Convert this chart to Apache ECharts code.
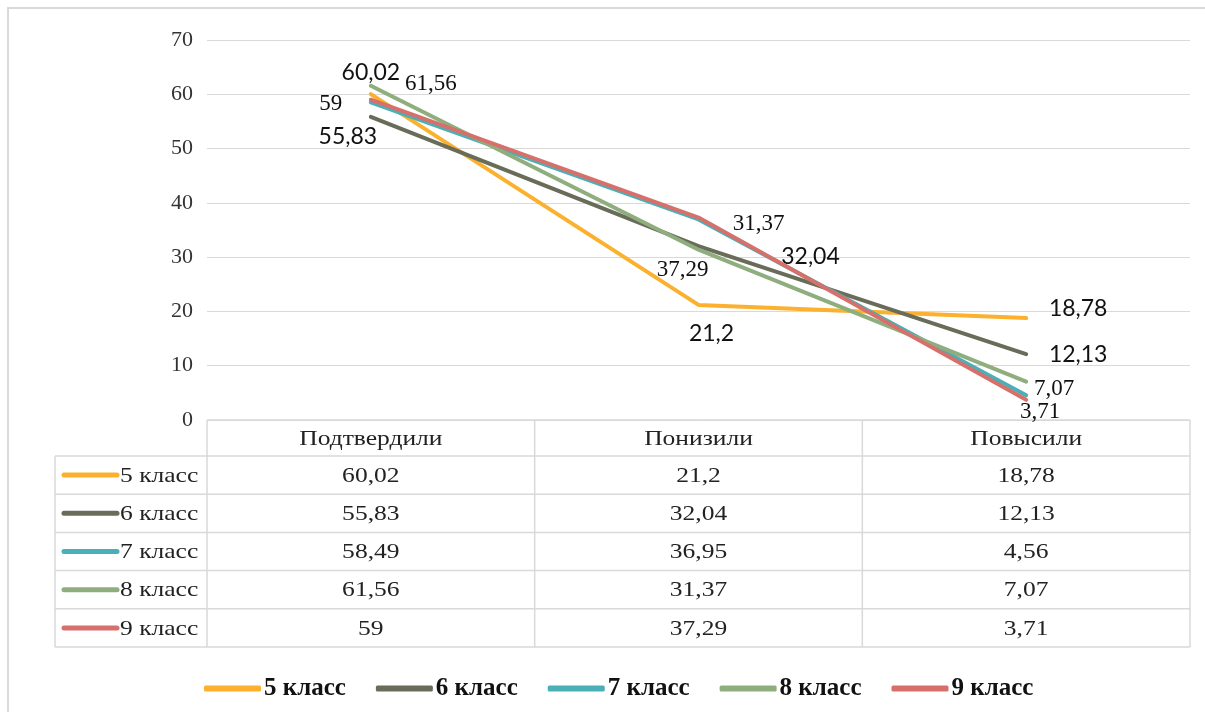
<!DOCTYPE html>
<html>
<head>
<meta charset="utf-8">
<script src="https://cdn.jsdelivr.net/npm/echarts@6/dist/echarts.min.js"></script>
<style>html,body{margin:0;padding:0;background:#fff;}#c{width:1205px;height:712px;}</style>
</head>
<body>
<div id="c"></div>
<script>
// ---- data ----
const categories = ['Подтвердили', 'Понизили', 'Повысили'];
const seriesNames = ['5 класс', '6 класс', '7 класс', '8 класс', '9 класс'];
const class5 = [60.02, 21.2, 18.78];
const class6 = [55.83, 32.04, 12.13];
const class7 = [58.49, 36.95, 4.56];
const class8 = [61.56, 31.37, 7.07];
const class9 = [59, 37.29, 3.71];
const yTicks = [0, 10, 20, 30, 40, 50, 60, 70];

// ---- styles ----
const allValues = [class5, class6, class7, class8, class9];
const colors = ['#FBB12E', '#6A6C5A', '#4AAFB7', '#8FAE7E', '#D7706A'];
const SERIF = '"Liberation Serif", "Times New Roman", serif';
const SANS = 'Lato, "Liberation Sans", sans-serif';
// label style per series: null => no labels
const labelStyles = [
  { font: SANS, size: 23, offsets: [[0, -22], [13, 29], [52, -9]] },
  { font: SANS, size: 23, offsets: [[-23, 20], [112, 11], [52, 0]] },
  null,
  { font: SERIF, size: 23, offsets: [[60, -2], [60, -26], [28, 7]] },
  { font: SERIF, size: 23, offsets: [[-40, 4], [-16, 52], [14, 12]] }
];
const fmt = v => String(v).replace('.', ',');

const chart = echarts.init(document.getElementById('c'), null, { renderer: 'canvas' });

const series = seriesNames.map((name, si) => {
  const ls = labelStyles[si];
  return {
    name: name,
    type: 'line',
    data: allValues[si].map((v, i) => {
      const d = { value: v };
      if (ls) {
        d.label = {
          show: true, position: 'inside', align: 'center', verticalAlign: 'middle',
          offset: ls.offsets[i], formatter: fmt(v),
          color: '#111', fontFamily: ls.font, fontSize: ls.size,
          textBorderWidth: 0
        };
      }
      return d;
    }),
    symbol: 'circle', symbolSize: 1, showSymbol: true,
    itemStyle: { color: colors[si] },
    lineStyle: { color: colors[si], width: 4, cap: 'round', join: 'round' },
    label: { show: false },
    emphasis: { disabled: true },
    animation: false,
    z: 2 + si
  };
});

chart.setOption({
  backgroundColor: '#fff',
  animation: false,
  grid: { left: 207, right: 15, top: 40, bottom: 292 },
  xAxis: {
    type: 'category', data: categories, boundaryGap: true,
    axisLine: { show: false }, axisTick: { show: false }, axisLabel: { show: false },
    splitLine: { show: false }
  },
  yAxis: {
    type: 'value', min: 0, max: 70, interval: 10,
    axisLine: { show: false }, axisTick: { show: false },
    axisLabel: {
      margin: 14, color: '#333', fontFamily: SERIF, fontSize: 22,
      formatter: v => yTicks.indexOf(v) >= 0 ? String(v) : ''
    },
    splitLine: { lineStyle: { color: '#D9D9D9', width: 1 } }
  },
  legend: {
    data: seriesNames, left: 199, top: 671,
    itemWidth: 57, itemHeight: 6, itemGap: 30, icon: 'roundRect',
    textStyle: { fontFamily: SERIF, fontWeight: 'bold', fontSize: 25, color: '#111', padding: [0, 0, 0, -2] },
    selectedMode: false
  },
  series: series
});

// ---- data table built from the arrays, positioned from the axis scale ----
function buildTable() {
  const c0 = chart.convertToPixel({ xAxisIndex: 0 }, categories[0]);
  const c1 = chart.convertToPixel({ xAxisIndex: 0 }, categories[1]);
  const band = c1 - c0;
  const centers = categories.map(c => chart.convertToPixel({ xAxisIndex: 0 }, c));
  const xs = [centers[0] - band / 2].concat(centers.map(c => c + band / 2));
  const yTop = chart.convertToPixel({ yAxisIndex: 0 }, 0);
  const headerH = 36, rowH = 38.2, tableLeft = 55;
  const rowTops = seriesNames.map((_, i) => yTop + headerH + i * rowH);
  const yBottom = yTop + headerH + seriesNames.length * rowH;
  const lineStyle = { stroke: '#D9D9D9', lineWidth: 1.5 };
  const SX = 1.16;
  const els = [];
  // outer chart border
  els.push({ type: 'rect', shape: { x: 8, y: 8, width: 1400, height: 900 }, style: { fill: null, stroke: '#D9D9D9', lineWidth: 2 }, z: 0, silent: true });
  // header top
  els.push({ type: 'line', shape: { x1: xs[0], y1: yTop, x2: xs[xs.length - 1], y2: yTop }, style: lineStyle, z: 1 });
  // row lines
  for (let i = 0; i <= seriesNames.length; i++) {
    const y = yTop + headerH + i * rowH;
    els.push({ type: 'line', shape: { x1: tableLeft, y1: y, x2: xs[xs.length - 1], y2: y }, style: lineStyle, z: 1 });
  }
  // verticals
  xs.forEach(x => els.push({ type: 'line', shape: { x1: x, y1: yTop, x2: x, y2: yBottom }, style: lineStyle, z: 1 }));
  els.push({ type: 'line', shape: { x1: tableLeft, y1: yTop + headerH, x2: tableLeft, y2: yBottom }, style: lineStyle, z: 1 });
  // header texts
  categories.forEach((c, i) => els.push({
    type: 'text', x: centers[i], y: yTop + headerH / 2 + 1, scaleX: SX,
    style: { text: c, fill: '#222', font: '22px ' + SERIF, align: 'center', verticalAlign: 'middle' }, z: 3
  }));
  // rows
  seriesNames.forEach((name, si) => {
    const cy = rowTops[si] + rowH / 2;
    els.push({ type: 'line', shape: { x1: 64, y1: cy, x2: 117, y2: cy }, style: { stroke: colors[si], lineWidth: 5, lineCap: 'round' }, z: 3 });
    els.push({ type: 'text', x: 120, y: cy + 1, scaleX: SX, style: { text: name, fill: '#222', font: '22px ' + SERIF, align: 'left', verticalAlign: 'middle' }, z: 3 });
    allValues[si].forEach((v, i) => els.push({
      type: 'text', x: centers[i], y: cy + 1, scaleX: SX,
      style: { text: fmt(v), fill: '#222', font: '22px ' + SERIF, align: 'center', verticalAlign: 'middle' }, z: 3
    }));
  });
  chart.setOption({ graphic: { elements: els } });
}
buildTable();
</script>
</body>
</html>
